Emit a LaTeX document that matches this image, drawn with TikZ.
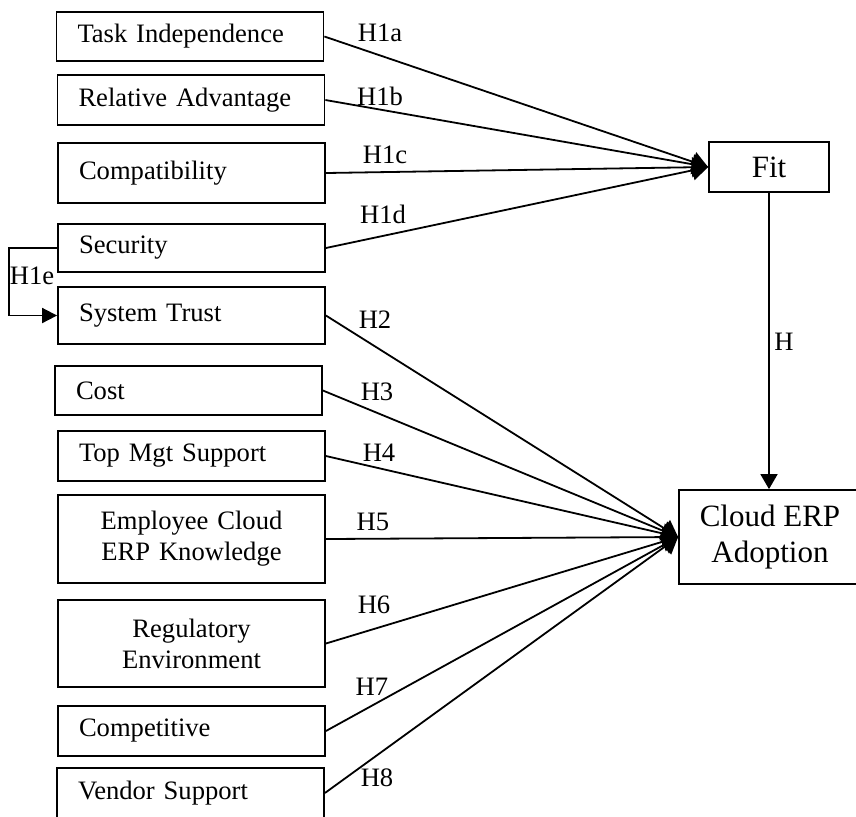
\documentclass[tikz,border=0pt]{standalone}
\usepackage{fontspec}
\setmainfont{Liberation Serif}
\usetikzlibrary{arrows.meta}

\begin{document}
\begin{tikzpicture}[x=0.5pt,y=-0.5pt,line width=0.9pt,
  factor/.style={draw,inner xsep=10.5pt,inner ysep=0pt,text width=112.5pt,align=left,font=\fontsize{13.3}{15.5}\selectfont},
  factorc/.style={factor,align=center},
  construct/.style={draw,align=center,inner sep=0pt,font=\fontsize{15.5}{18}\selectfont},
  hyp/.style={inner sep=0pt,font=\fontsize{13.3}{15.5}\selectfont},
  link/.style={-{Triangle[length=8pt,width=10pt]}}]
\clip (0,0) rectangle (856,816);

% antecedents of fit
\node[factor,minimum height=24.5pt] (task) at (190,36.5) {Task Independence};
\node[factor,minimum height=25pt] (reladv) at (191,100) {Relative Advantage};
\node[factor,minimum height=30pt] (compat) at (191.5,173) {Compatibility};
\node[factor,minimum height=24pt] (security) at (191.5,248) {Security};

% antecedents of adoption
\node[factor,minimum height=28.5pt] (trust) at (191.5,315.5) {System Trust};
\node[factor,minimum height=24.5pt] (cost) at (188.5,390.5) {Cost};
\node[factor,minimum height=25pt] (topmgt) at (191.5,456) {Top Mgt Support};
\node[factorc,minimum height=44pt] (employee) at (191.5,539) {Employee Cloud\\ERP Knowledge};
\node[factorc,minimum height=43.5pt] (regulatory) at (191.5,643.5) {Regulatory\\Environment};
\node[factor,minimum height=25pt] (competitive) at (191.5,731) {Competitive};
\node[factor,minimum height=25pt] (vendor) at (190.5,793) {Vendor Support};

\node[construct,minimum width=60pt,minimum height=25pt] (fit) at (769,167) {Fit};
\node[construct,minimum width=91pt,minimum height=47pt] (adopt) at (770,537) {Cloud ERP\\Adoption};

\draw[link] (task.east) -- (fit.west);
\draw[link] (reladv.east) -- (fit.west);
\draw[link] (compat.east) -- (fit.west);
\draw[link] (security.east) -- (fit.west);

\draw[-{Triangle[length=7.5pt,width=7.5pt]}] (security.west) -- ++(-48,0) |- (trust.west);

\draw[link] (trust.east) -- (adopt.west);
\draw[link] (cost.east) -- (adopt.west);
\draw[link] (topmgt.east) -- (adopt.west);
\draw[link] (employee.east) -- (adopt.west);
\draw[link] (regulatory.east) -- (adopt.west);
\draw[link] (competitive.east) -- (adopt.west);
\draw[link] (vendor.east) -- (adopt.west);

\draw[-{Triangle[length=7.5pt,width=8.5pt]}] (fit.south) -- (fit.south |- adopt.north);

% hypothesis labels
\node[hyp] (h1a) at (380,33) {H1a};
\node[hyp] (h1b) at (380,96) {H1b};
\node[hyp] (h1c) at (385,155) {H1c};
\node[hyp] (h1d) at (383,214) {H1d};
\node[hyp] (h1e) at (32,276) {H1e};
\node[hyp] (h2) at (375,320) {H2};
\node[hyp] (h3) at (377,392) {H3};
\node[hyp] (h4) at (379,453) {H4};
\node[hyp] (h5) at (373,522) {H5};
\node[hyp] (h6) at (374,605) {H6};
\node[hyp] (h7) at (372,687) {H7};
\node[hyp] (h8) at (377,778) {H8};
\node[hyp] (h) at (784,342) {H};
\end{tikzpicture}
\end{document}
